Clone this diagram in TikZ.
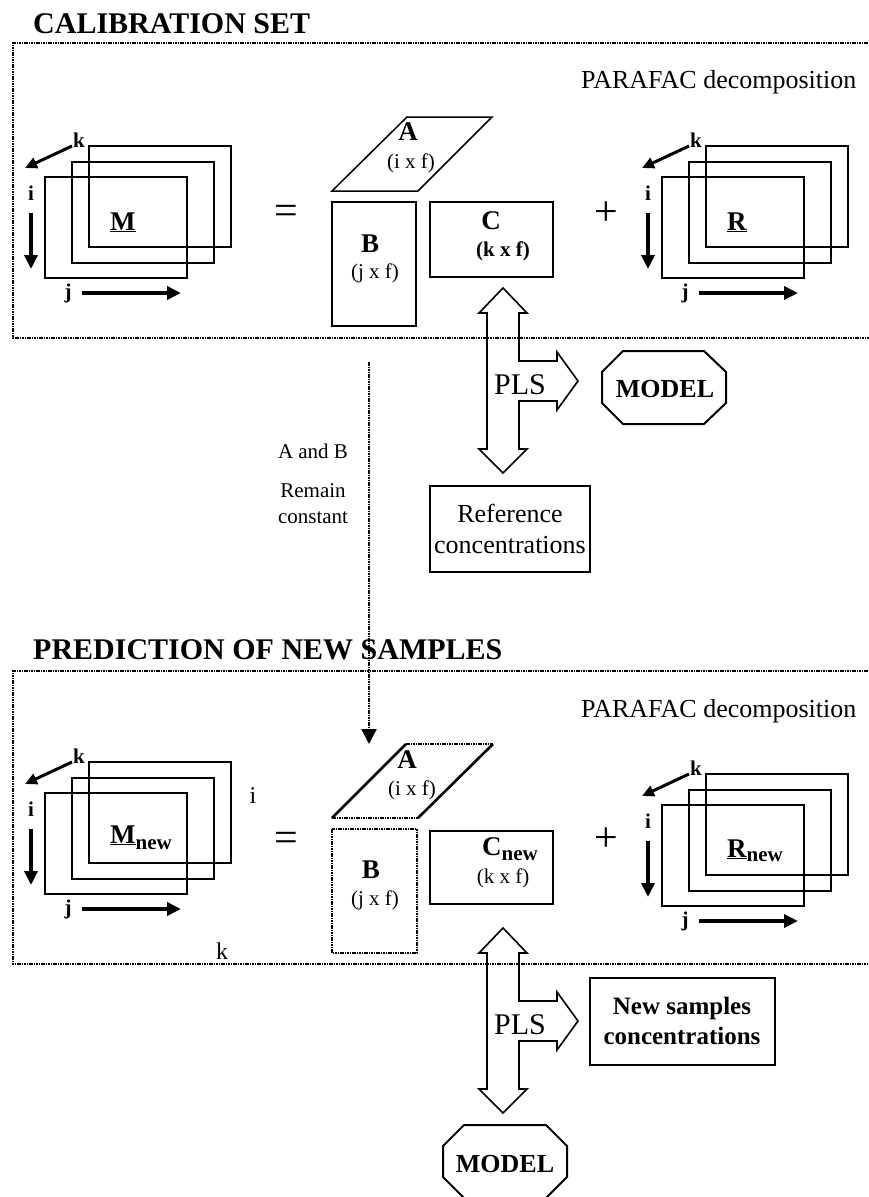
\documentclass[tikz,border=0pt]{standalone}
\usepackage{fontspec}
\setmainfont{Liberation Serif}
\usetikzlibrary{arrows.meta}
\newcommand\pxfont[1]{\fontsize{#1}{#1}\selectfont}
\tikzstyle{axis} = [line width=4pt,-{Triangle[length=14pt,width=13pt]}]
\tikzstyle{slab} = [line width=2pt]
\tikzstyle{frame} = [line width=2.8pt,dash pattern=on 1.6pt off 0.8pt]
\tikzstyle{hollow} = [line width=1.6pt,line join=miter]
\tikzstyle{box} = [draw,line width=2pt]
\tikzstyle{lbl} = [inner sep=0pt,font=\bfseries\pxfont{21}]
\tikzstyle{mat} = [inner sep=0pt,font=\bfseries\pxfont{27}]
\tikzstyle{dims} = [inner sep=0pt,font=\pxfont{21}]

\begin{document}
\begin{tikzpicture}[x=1pt,y=-1pt]
	\useasboundingbox (0,0) rectangle (868,1197);

	% titles and frames
	\node[anchor=base west,inner sep=0pt,font=\bfseries\pxfont{30}] (caltitle) at (33,33) {CALIBRATION SET};
	\node[anchor=base west,inner sep=0pt,font=\bfseries\pxfont{30}] (predtitle) at (33,659) {PREDICTION OF NEW SAMPLES};
	\draw[frame] (880,43) -- (13,43) -- (13,338) -- (880,338);
	\draw[frame] (880,671) -- (13,671) -- (13,964) -- (880,964);
	\node[anchor=base west,inner sep=0pt,font=\pxfont{26}] (parafac1) at (581,88) {PARAFAC decomposition};
	\node[anchor=base west,inner sep=0pt,font=\pxfont{26}] (parafac2) at (581,717) {PARAFAC decomposition};

	% the four three-way stacks
	\foreach \sx/\sy/\n in {0/0/1,617/0/2,0/616/3,617/628/4}{
		\foreach \rx/\ry in {89/146,72/162,45/177}
			\draw[slab] (\rx+\sx,\ry+\sy) rectangle ++(142,101);
		\draw[axis,line width=3pt,-{Triangle[length=12pt,width=11pt]}] (72+\sx,146+\sy) -- ++(-47,22);
		\draw[axis] (31+\sx,213+\sy) -- ++(0,56);
		\draw[axis] (82+\sx,293+\sy) -- ++(99,0);
		\node[lbl,anchor=base west] (k\n) at (73+\sx,147+\sy) {k};
		\node[lbl,anchor=base] (i\n) at (31+\sx,200+\sy) {i};
		\node[lbl,anchor=base] (j\n) at (68+\sx,298+\sy) {j};
	}
	\node[mat,anchor=base west] (M) at (110,230) {\underline{M}};
	\node[mat,anchor=base west] (R) at (727,230) {\underline{R}};
	\node[mat,anchor=base west] (Mnew) at (110,843) {\underline{M}\raisebox{-6pt}{\pxfont{21}new}};
	\node[mat,anchor=base west] (Rnew) at (727,857) {\underline{R}\raisebox{-4pt}{\pxfont{21}new}};
	\node[inner sep=0pt,font=\pxfont{24},anchor=base] (iextra) at (253,803) {i};
	\node[inner sep=0pt,font=\pxfont{24},anchor=base] (kextra) at (222,959) {k};

	\node[inner sep=0pt,font=\pxfont{42}] (eq1) at (286,215) {=};
	\node[inner sep=0pt,font=\pxfont{42}] (eq2) at (286,842) {=};
	\node[inner sep=0pt,font=\pxfont{42}] (plus1) at (606,214) {+};
	\node[inner sep=0pt,font=\pxfont{42}] (plus2) at (606,840) {+};

	% calibration factors
	\draw[slab,line width=1.5pt] (332,191) -- (418,191) -- (492,117) -- (407,117) -- cycle;
	\node[mat,anchor=base] (A1) at (408,140) {A};
	\node[dims,anchor=base] (A1dim) at (411,168) {(i x f)};
	\draw[box] (332,202) rectangle (416,326);
	\node[mat,anchor=base] (B1) at (370,252) {B};
	\node[dims,anchor=base] (B1dim) at (375,278) {(j x f)};
	\draw[box] (430,202) rectangle (553,277);
	\node[mat,anchor=base] (C1) at (491,229) {C};
	\node[dims,anchor=base,font=\bfseries\pxfont{21}] (C1dim) at (503,256) {(k x f)};

	% prediction factors
	\draw[line width=2.6pt] (418,818) -- (493,744);
	\draw[line width=2.6pt] (406,744) -- (332,818);
	\draw[frame] (332,818) -- (418,818);
	\draw[frame] (406,744) -- (493,744);
	\node[mat,anchor=base] (A2) at (407,768) {A};
	\node[dims,anchor=base] (A2dim) at (412,795) {(i x f)};
	\draw[frame] (332,829) rectangle (417,953);
	\node[mat,anchor=base] (B2) at (371,878) {B};
	\node[dims,anchor=base] (B2dim) at (375,905) {(j x f)};
	\draw[box] (430,831) rectangle (553,904);
	\node[mat,anchor=base west] (C2) at (482,855) {C\raisebox{-5pt}{\pxfont{21}new}};
	\node[dims,anchor=base] (C2dim) at (503,883) {(k x f)};

	% A and B kept from calibration
	\node[inner sep=0pt,font=\pxfont{21},anchor=base] (keep1) at (313,458) {A and B};
	\node[inner sep=0pt,font=\pxfont{21},anchor=base] (keep2) at (313,497) {Remain};
	\node[inner sep=0pt,font=\pxfont{21},anchor=base] (keep3) at (313,523) {constant};
	\coordinate (keeptop) at (369,362);
	\coordinate (keepend) at (369,744);
	\draw[frame,line width=2.2pt,-{Triangle[length=15pt,width=15pt]}] (keeptop) -- (keepend);

	% PLS arrows
	\foreach \py/\n in {381/1,1021/2}{
		\draw[hollow,shift={(503,\py)}] (0,-93) -- (24,-68) -- (16,-68) -- (16,-20) -- (54,-20) -- (54,-29)
			-- (75,0) -- (54,29) -- (54,20) -- (16,20) -- (16,68) -- (24,68) -- (0,92) -- (-24,68)
			-- (-16,68) -- (-16,-68) -- (-24,-68) -- cycle;
		\node[inner sep=0pt,font=\pxfont{30},anchor=base] (pls\n) at (520,\py+13) {PLS};
	}

	% outputs
	\draw[slab] (623,351) -- (704,351) -- (726,372) -- (726,403) -- (704,424) -- (623,424) -- (602,403) -- (602,372) -- cycle;
	\node[inner sep=0pt,font=\bfseries\pxfont{26},anchor=base] (model1) at (665,397) {MODEL};
	\draw[slab] (464,1125) -- (546,1125) -- (567,1146) -- (567,1177) -- (546,1198) -- (464,1198) -- (443,1177) -- (443,1146) -- cycle;
	\node[inner sep=0pt,font=\bfseries\pxfont{26},anchor=base] (model2) at (505,1172) {MODEL};
	\node[box,minimum width=160pt,minimum height=86pt,align=center,font=\fontsize{26}{31}\selectfont] (refconc) at (510,529) {Reference\\concentrations};
	\node[box,minimum width=185pt,minimum height=87pt,align=center,font=\bfseries\fontsize{25}{30}\selectfont] (newconc) at (682,1021) {New samples\\concentrations};
\end{tikzpicture}
\end{document}
